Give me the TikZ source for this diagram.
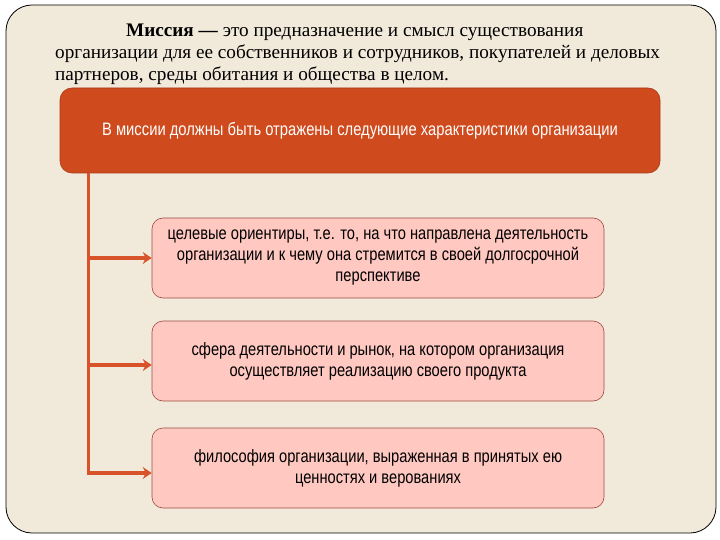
\documentclass[tikz,border=0pt]{standalone}
\usepackage{fontspec}
\setmainfont{Liberation Serif}
\newfontfamily\boxfont[FakeStretch=0.82]{Liberation Sans}
\usetikzlibrary{arrows.meta}

\definecolor{paper}{HTML}{F1EADB}
\definecolor{rust}{HTML}{CF4A1D}
\definecolor{rustdark}{HTML}{A8391A}
\definecolor{rose}{HTML}{FFC8C1}
\definecolor{rosedark}{HTML}{9E4A40}
\definecolor{twig}{HTML}{D9532A}

\tikzset{
  frame/.style={draw=black, line width=0.8pt, fill=paper, rounded corners=26pt},
  title/.style={align=left, inner sep=0pt, font=\fontsize{19.2}{22}\selectfont},
  header/.style={draw=rustdark, fill=rust, rounded corners=12pt, line width=0.6pt,
    minimum width=600pt, minimum height=85pt, text=white,
    font=\boxfont\fontsize{18}{21}\selectfont},
  item/.style={draw=rosedark, fill=rose, rounded corners=11pt, line width=0.6pt,
    minimum width=452pt, minimum height=80pt, align=center, text=black,
    font=\boxfont\fontsize{17.9}{21}\selectfont},
  trunk/.style={draw=twig, line width=3pt},
  branch/.style={draw=twig, line width=4pt, -{Stealth[length=9pt,width=12pt]}}
}

\begin{document}
\begin{tikzpicture}[x=1pt,y=-1pt]
\useasboundingbox (0,0) rectangle (720,540);

% ---------------------------
% рамка слайда
% ---------------------------
\draw[frame] (6,5) rectangle (716,533);

% ---------------------------
% определение миссии
% ---------------------------
\node[title, anchor=north west] (mission) at (55,24) {%
  \hspace*{71pt}\textbf{Миссия —} это предназначение и смысл существования\\
  организации для ее собственников и сотрудников, покупателей и деловых\\
  партнеров, среды обитания и общества в целом.};

\node[header] (head) at (360,130.5)
  {В миссии должны быть отражены следующие характеристики организации};

% ---------------------------
% характеристики
% ---------------------------
\node[item] (goal)   at (378,258) {целевые ориентиры, т.е. то, на что направлена деятельность\\
  организации и к чему она стремится в своей долгосрочной\\ перспективе};
\node[item] (market) at (378,361) {сфера деятельности и рынок, на котором организация\\
  осуществляет реализацию своего продукта};
\node[item] (values) at (378,468) {философия организации, выраженная в принятых ею\\
  ценностях и верованиях};

\coordinate (in2) at ([yshift=-4pt]market.west);
\coordinate (in3) at ([yshift=-5pt]values.west);
\coordinate (foot) at (88,475);

\draw[trunk] (head.south -| foot) -- (foot);
\draw[branch] (foot |- goal.west) -- (goal.west);
\draw[branch] (foot |- in2) -- (in2);
\draw[branch] ([xshift=-1.5pt]foot |- in3) -- (in3); % нижний угол

\end{tikzpicture}
\end{document}
